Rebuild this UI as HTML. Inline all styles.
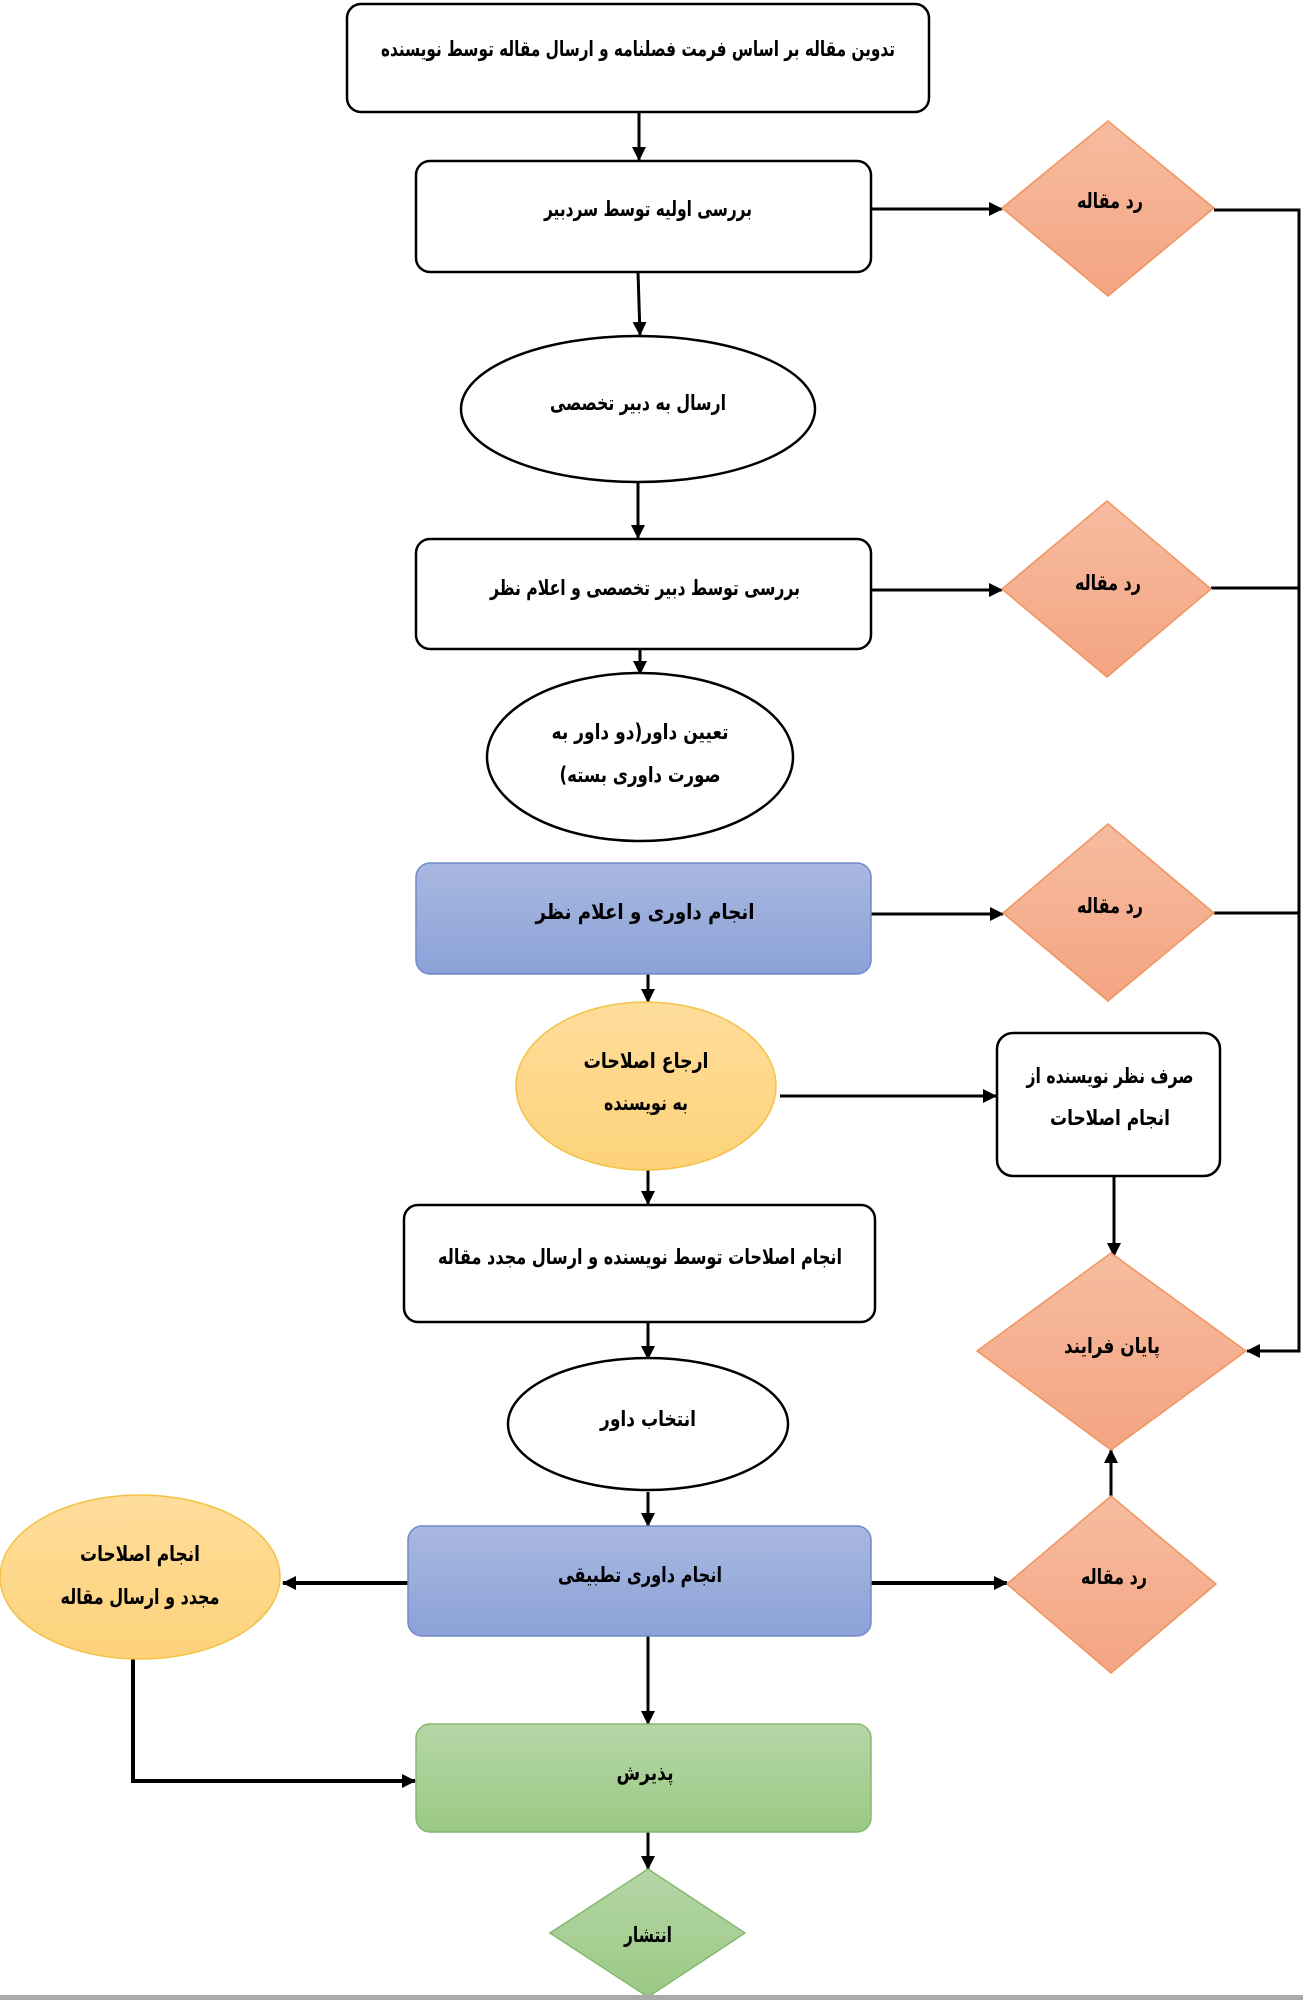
<!DOCTYPE html>
<html><head><meta charset="utf-8"><style>
html,body{margin:0;padding:0;background:#fff}
svg{display:block}
text{font-family:"DejaVu Sans","Liberation Sans",sans-serif;font-weight:bold;font-size:21px;fill:#000;text-anchor:middle;dominant-baseline:middle}
</style></head><body>
<svg width="1303" height="2000" viewBox="0 0 1303 2000" xmlns="http://www.w3.org/2000/svg">
<defs>
<marker id="b" markerWidth="14" markerHeight="14" refX="13" refY="7" orient="auto" markerUnits="userSpaceOnUse"><path d="M0,0 L14,7 L0,14 Z" fill="#000"/></marker>
<linearGradient id="blue" x1="0" y1="0" x2="0" y2="1"><stop offset="0" stop-color="#a9b8e0"/><stop offset="1" stop-color="#8ba2d8"/></linearGradient>
<linearGradient id="green" x1="0" y1="0" x2="0" y2="1"><stop offset="0" stop-color="#b5d6a7"/><stop offset="1" stop-color="#9bc985"/></linearGradient>
<linearGradient id="yel" x1="0" y1="0" x2="0" y2="1"><stop offset="0" stop-color="#fedd9b"/><stop offset="1" stop-color="#fdd27a"/></linearGradient>
<linearGradient id="or" x1="0" y1="0" x2="0" y2="1"><stop offset="0" stop-color="#f6bca0"/><stop offset="1" stop-color="#f4a482"/></linearGradient>
</defs>
<g stroke="#000" stroke-width="3" fill="none">
<path d="M639,112 V160" marker-end="url(#b)"/>
<path d="M871,209 H1002" marker-end="url(#b)"/>
<path d="M1214,210 H1299 V1351 H1247" marker-end="url(#b)"/>
<path d="M638,272 L640,335" marker-end="url(#b)"/>
<path d="M638,482 V538" marker-end="url(#b)"/>
<path d="M871,590 H1002" marker-end="url(#b)"/>
<path d="M1211,588 H1299"/>
<path d="M640,649 V674" marker-end="url(#b)"/>
<path d="M871,914 H1003" marker-end="url(#b)"/>
<path d="M1214,913 H1299"/>
<path d="M648,974 V1002" marker-end="url(#b)"/>
<path d="M780,1096 H996" marker-end="url(#b)"/>
<path d="M1114,1176 V1256" marker-end="url(#b)"/>
<path d="M648,1170 V1204" marker-end="url(#b)"/>
<path d="M648,1322 V1359" marker-end="url(#b)"/>
<path d="M648,1492 V1526" marker-end="url(#b)"/>
<path d="M408,1583 H283" stroke-width="4" marker-end="url(#b)"/>
<path d="M871,1583 H1007" stroke-width="4" marker-end="url(#b)"/>
<path d="M1111,1496 V1450" marker-end="url(#b)"/>
<path d="M648,1636 V1724" marker-end="url(#b)"/>
<path d="M133,1658 V1781 H415" stroke-width="4" marker-end="url(#b)"/>
<path d="M648,1832 V1869" marker-end="url(#b)"/>
</g>
<g stroke="#000" stroke-width="2.5" fill="#fff">
<rect x="347" y="4" width="582" height="108" rx="14"/>
<rect x="416" y="161" width="455" height="111" rx="14"/>
<ellipse cx="638" cy="409" rx="177" ry="73"/>
<rect x="416" y="539" width="455" height="110" rx="14"/>
<ellipse cx="640" cy="757" rx="153" ry="84"/>
<rect x="997" y="1033" width="223" height="143" rx="16"/>
<rect x="404" y="1205" width="471" height="117" rx="14"/>
<ellipse cx="648" cy="1424" rx="140" ry="66"/>
</g>
<rect x="416" y="863" width="455" height="111" rx="14" fill="url(#blue)" stroke="#7189c8" stroke-width="1.5"/>
<rect x="408" y="1526" width="463" height="110" rx="14" fill="url(#blue)" stroke="#7189c8" stroke-width="1.5"/>
<rect x="416" y="1724" width="455" height="108" rx="14" fill="url(#green)" stroke="#86b86e" stroke-width="1.5"/>
<ellipse cx="646" cy="1086" rx="130" ry="84" fill="url(#yel)" stroke="#f3c244" stroke-width="1.5"/>
<ellipse cx="140" cy="1577" rx="140" ry="82" fill="url(#yel)" stroke="#f3c244" stroke-width="1.5"/>
<g fill="url(#or)" stroke="#f0955f" stroke-width="1.5">
<path d="M1108,121 L1214,208 L1108,296 L1002,208 Z"/>
<path d="M1107,501 L1211,589 L1107,677 L1002,589 Z"/>
<path d="M1108,824 L1214,913 L1108,1001 L1003,913 Z"/>
<path d="M1111,1253 L1246,1351 L1111,1450 L977,1351 Z"/>
<path d="M1111,1496 L1216,1584 L1111,1673 L1007,1584 Z"/>
</g>
<path d="M648,1869 L745,1933 L648,1997 L550,1933 Z" fill="url(#green)" stroke="#86b86e" stroke-width="1.5"/>
<rect x="0" y="1995" width="1303" height="5" fill="#aaa"/>
<g direction="rtl">
<text x="638" y="50" textLength="514" lengthAdjust="spacingAndGlyphs">تدوین مقاله بر اساس فرمت فصلنامه و ارسال مقاله توسط نویسنده</text>
<text x="648" y="210" textLength="208" lengthAdjust="spacingAndGlyphs">بررسی اولیه توسط سردبیر</text>
<text x="638" y="404" textLength="176" lengthAdjust="spacingAndGlyphs">ارسال به دبیر تخصصی</text>
<text x="645" y="589" textLength="310" lengthAdjust="spacingAndGlyphs">بررسی توسط دبیر تخصصی و اعلام نظر</text>
<text x="640" y="733" textLength="177" lengthAdjust="spacingAndGlyphs">تعیین داور(دو داور به</text>
<text x="640" y="776" textLength="161" lengthAdjust="spacingAndGlyphs">صورت داوری بسته)</text>
<text x="645" y="913" font-size="23" textLength="219" lengthAdjust="spacingAndGlyphs">انجام داوری و اعلام نظر</text>
<text x="646" y="1062" textLength="125" lengthAdjust="spacingAndGlyphs">ارجاع اصلاحات</text>
<text x="646" y="1104" textLength="84" lengthAdjust="spacingAndGlyphs">به نویسنده</text>
<text x="1110" y="1077" textLength="167" lengthAdjust="spacingAndGlyphs">صرف نظر نویسنده از</text>
<text x="1110" y="1119" textLength="120" lengthAdjust="spacingAndGlyphs">انجام اصلاحات</text>
<text x="640" y="1258" textLength="404" lengthAdjust="spacingAndGlyphs">انجام اصلاحات توسط نویسنده و ارسال مجدد مقاله</text>
<text x="648" y="1420" textLength="96" lengthAdjust="spacingAndGlyphs">انتخاب داور</text>
<text x="640" y="1576" font-size="23" textLength="164" lengthAdjust="spacingAndGlyphs">انجام داوری تطبیقی</text>
<text x="140" y="1555" textLength="120" lengthAdjust="spacingAndGlyphs">انجام اصلاحات</text>
<text x="140" y="1598" textLength="159" lengthAdjust="spacingAndGlyphs">مجدد و ارسال مقاله</text>
<text x="645" y="1774" font-size="23" textLength="57" lengthAdjust="spacingAndGlyphs">پذیرش</text>
<text x="648" y="1936" textLength="48" lengthAdjust="spacingAndGlyphs">انتشار</text>
<text x="1110" y="202" textLength="66" lengthAdjust="spacingAndGlyphs">رد مقاله</text>
<text x="1108" y="584" textLength="66" lengthAdjust="spacingAndGlyphs">رد مقاله</text>
<text x="1110" y="907" textLength="66" lengthAdjust="spacingAndGlyphs">رد مقاله</text>
<text x="1114" y="1578" textLength="66" lengthAdjust="spacingAndGlyphs">رد مقاله</text>
<text x="1112" y="1347" textLength="96" lengthAdjust="spacingAndGlyphs">پایان فرایند</text>
</g>
</svg>
</body></html>
